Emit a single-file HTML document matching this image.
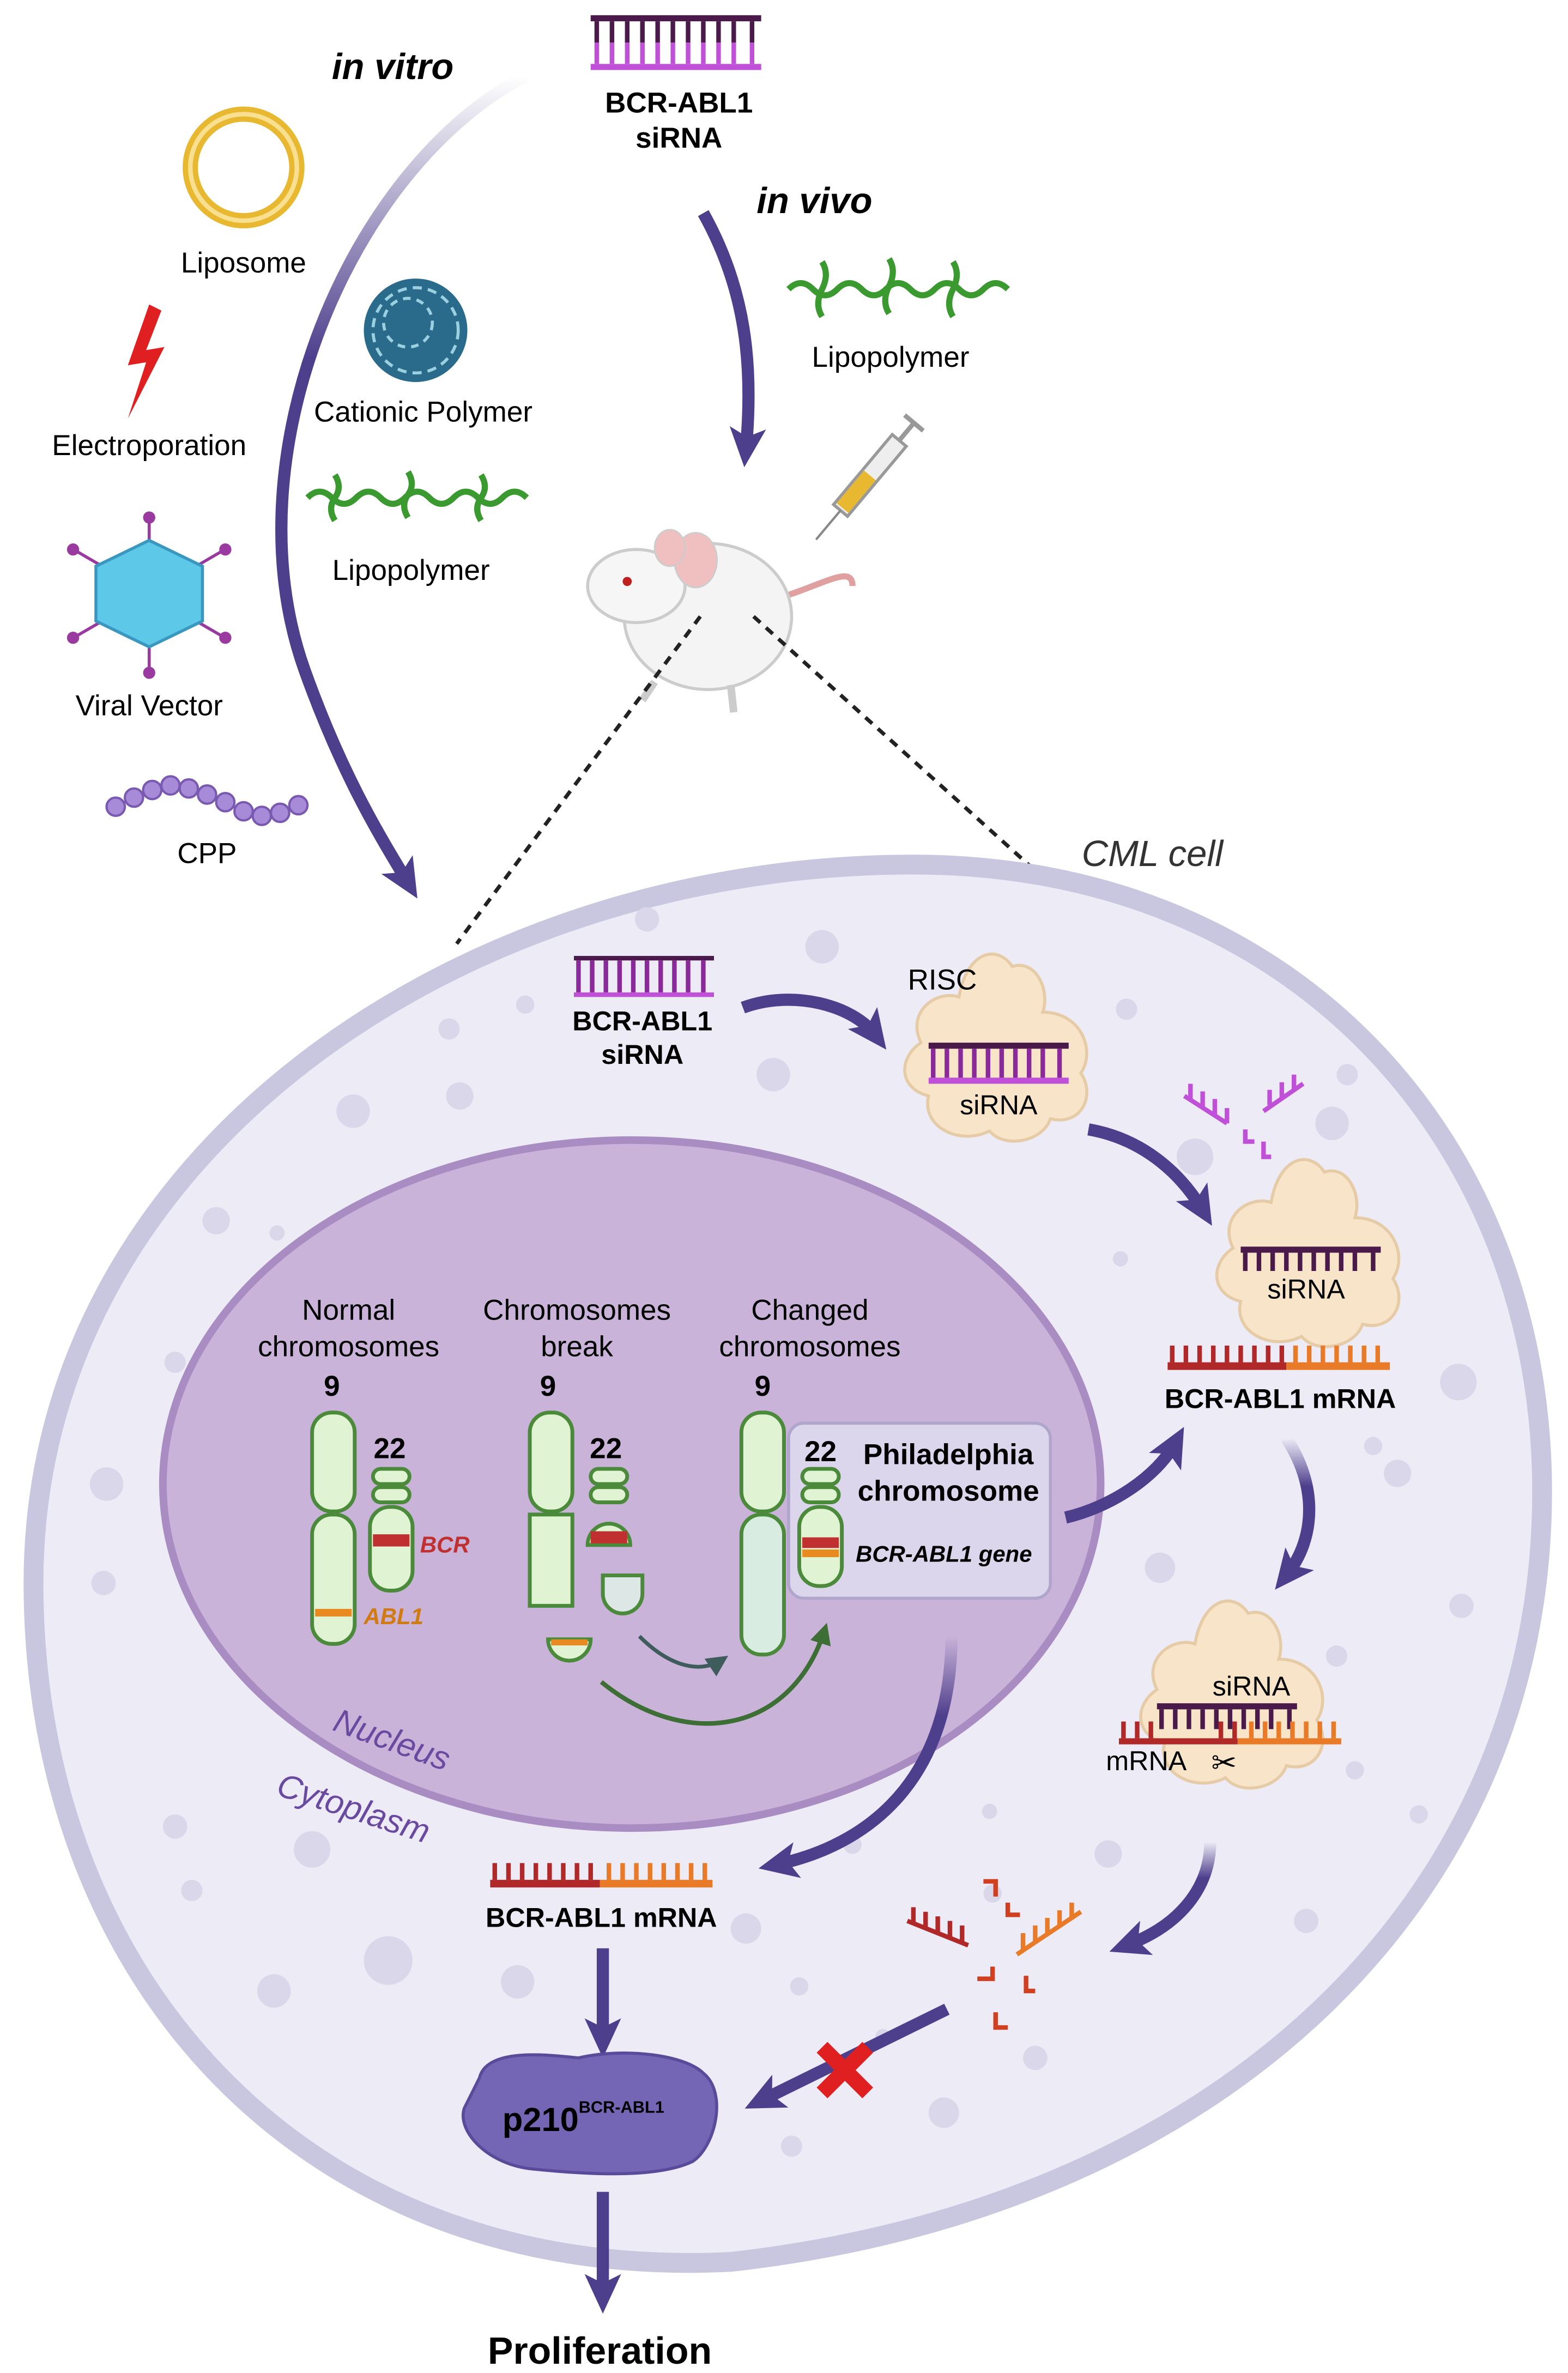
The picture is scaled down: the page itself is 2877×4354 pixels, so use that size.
<!DOCTYPE html>
<html><head><meta charset="utf-8">
<style>
html,body{margin:0;padding:0;background:#fff;}
svg{display:block;}
text{font-family:"Liberation Sans",sans-serif;}
</style></head>
<body>
<svg width="2877" height="4354" viewBox="0 0 1030 1559" preserveAspectRatio="none" xmlns="http://www.w3.org/2000/svg">
<defs>
<marker id="ah" markerUnits="userSpaceOnUse" markerWidth="30" markerHeight="30" refX="14" refY="12" orient="auto">
<path d="M0,0 L26,12 L0,24 L6,12 Z" fill="#4e3f8c"/>
</marker>
<marker id="ahg" markerUnits="userSpaceOnUse" markerWidth="20" markerHeight="20" refX="10" refY="7" orient="auto">
<path d="M0,0 L14,7 L0,14 Z" fill="#3d6e35"/>
</marker>
<marker id="ahd" markerUnits="userSpaceOnUse" markerWidth="20" markerHeight="20" refX="10" refY="7" orient="auto">
<path d="M0,0 L14,7 L0,14 Z" fill="#3f5c5c"/>
</marker>
<linearGradient id="fadeTop" x1="0" y1="0" x2="0" y2="1">
<stop offset="0" stop-color="#4e3f8c" stop-opacity="0"/><stop offset="0.35" stop-color="#4e3f8c"/>
</linearGradient>
<g id="prot">
<path d="M-50,-10 C-60,-30 -40,-45 -25,-40 C-20,-70 0,-75 10,-60 C25,-65 35,-45 30,-30 C55,-30 65,-5 55,10 C65,25 55,45 35,40 C30,55 5,60 -5,48 C-25,58 -50,45 -45,25 C-65,20 -65,0 -50,-10 Z" fill="#f8e4c8" stroke="#e6cca6" stroke-width="2"/>
</g>
</defs>

<!-- siRNA top -->
<g>
<rect x="388" y="10" width="112" height="4" fill="#4a1a4a"/>
<rect x="388" y="42" width="112" height="4" fill="#c050d8"/>
<g stroke-width="3">
<path d="M392,14v14M402,14v14M412,14v14M422,14v14M432,14v14M442,14v14M452,14v14M462,14v14M472,14v14M482,14v14M494,14v14" stroke="#4a1a4a"/>
<path d="M392,28v14M402,28v14M412,28v14M422,28v14M432,28v14M442,28v14M452,28v14M462,28v14M472,28v14M482,28v14M494,28v14" stroke="#c050d8"/>
</g>
</g>
<text x="446" y="74" font-size="19" font-weight="bold" text-anchor="middle">BCR-ABL1</text>
<text x="446" y="97" font-size="19" font-weight="bold" text-anchor="middle">siRNA</text>
<text x="218" y="52" font-size="24" font-weight="bold" font-style="italic">in vitro</text>
<text x="497" y="140" font-size="24" font-weight="bold" font-style="italic">in vivo</text>

<!-- in vitro arrow -->
<path d="M345,50 C230,110 150,300 200,440 C225,510 250,550 268,580" fill="none" stroke="url(#fadeTop)" stroke-width="8" marker-end="url(#ah)"/>
<!-- in vivo arrow -->
<path d="M462,140 C490,190 495,240 490,295" fill="none" stroke="#4e3f8c" stroke-width="8" marker-end="url(#ah)"/>

<!-- liposome -->
<circle cx="160" cy="110" r="35" fill="none" stroke="#e8b830" stroke-width="10"/>
<circle cx="160" cy="110" r="35" fill="none" stroke="#f8e090" stroke-width="3"/>
<text x="160" y="179" font-size="19" text-anchor="middle">Liposome</text>
<!-- lightning -->
<path d="M98,200 L84,240 L96,238 L84,275 L108,228 L96,230 L106,204 Z" fill="#e02020"/>
<text x="98" y="299" font-size="19" text-anchor="middle">Electroporation</text>
<!-- cationic polymer -->
<circle cx="273" cy="217" r="34" fill="#2a6a8a"/>
<circle cx="273" cy="217" r="28" fill="none" stroke="#9ad0e0" stroke-width="2" stroke-dasharray="6 4"/>
<circle cx="268" cy="212" r="16" fill="none" stroke="#9ad0e0" stroke-width="2" stroke-dasharray="5 4"/>
<text x="278" y="277" font-size="19" text-anchor="middle">Cationic Polymer</text>
<!-- lipopolymer left -->
<g fill="none" stroke="#3a9a30" stroke-width="4">
<path d="M202,327 q8,-8 16,0 t16,0 t16,0 t16,0 t16,0 t16,0 t16,0 t16,0 t16,0"/>
<path d="M220,312 q5,8 0,15 t0,15 M268,310 q5,8 0,15 t0,15 M316,312 q5,8 0,15 t0,15"/>
</g>
<text x="270" y="381" font-size="19" text-anchor="middle">Lipopolymer</text>
<!-- lipopolymer right -->
<g fill="none" stroke="#3a9a30" stroke-width="4">
<path d="M518,190 q8,-8 16,0 t16,0 t16,0 t16,0 t16,0 t16,0 t16,0 t16,0 t16,0"/>
<path d="M540,172 q5,8 0,18 t0,18 M584,170 q5,8 0,18 t0,18 M626,172 q5,8 0,18 t0,18"/>
</g>
<text x="585" y="241" font-size="19" text-anchor="middle">Lipopolymer</text>
<!-- viral vector -->
<g stroke="#9a3aa0" stroke-width="2">
<line x1="98" y1="340" x2="98" y2="440"/><line x1="50" y1="362" x2="146" y2="418"/><line x1="50" y1="418" x2="146" y2="362"/>
</g>
<g fill="#9a3aa0"><circle cx="98" cy="340" r="4"/><circle cx="98" cy="442" r="4"/><circle cx="48" cy="361" r="4"/><circle cx="148" cy="361" r="4"/><circle cx="48" cy="419" r="4"/><circle cx="148" cy="419" r="4"/></g>
<polygon points="98,355 133,372 133,408 98,425 63,408 63,372" fill="#5ec8e8" stroke="#3a98c0" stroke-width="2"/>
<text x="98" y="470" font-size="19" text-anchor="middle">Viral Vector</text>
<!-- CPP -->
<g fill="#a78ad8" stroke="#7a5ab0" stroke-width="1.5">
<circle cx="76" cy="530" r="6"/><circle cx="88" cy="524" r="6"/><circle cx="100" cy="519" r="6"/><circle cx="112" cy="516" r="6"/><circle cx="124" cy="518" r="6"/><circle cx="136" cy="522" r="6"/><circle cx="148" cy="527" r="6"/><circle cx="160" cy="533" r="6"/><circle cx="172" cy="536" r="6"/><circle cx="184" cy="534" r="6"/><circle cx="196" cy="529" r="6"/>
</g>
<text x="136" y="567" font-size="19" text-anchor="middle">CPP</text>

<!-- syringe -->
<g transform="translate(565,320) rotate(40)">
<rect x="-6" y="-40" width="12" height="60" fill="#eee" stroke="#999" stroke-width="2"/>
<rect x="-5" y="-10" width="10" height="28" fill="#e8b830"/>
<line x1="0" y1="-40" x2="0" y2="-55" stroke="#999" stroke-width="3"/>
<line x1="-8" y1="-55" x2="8" y2="-55" stroke="#999" stroke-width="3"/>
<line x1="0" y1="20" x2="0" y2="45" stroke="#888" stroke-width="1.5"/>
</g>
<!-- mouse -->
<path d="M505,395 C540,385 560,370 560,385" fill="none" stroke="#e0a0a0" stroke-width="4"/>
<ellipse cx="465" cy="405" rx="55" ry="48" fill="#f4f4f4" stroke="#ccc" stroke-width="2"/>
<ellipse cx="418" cy="385" rx="32" ry="24" fill="#f6f6f6" stroke="#ccc" stroke-width="2"/>
<ellipse cx="457" cy="368" rx="14" ry="18" fill="#f0c0c0" stroke="#ccc"/>
<ellipse cx="440" cy="360" rx="10" ry="12" fill="#f0c0c0" stroke="#ccc"/>
<circle cx="412" cy="382" r="3" fill="#c02020"/>
<path d="M430,448 l-8,12 M480,450 l2,18" stroke="#ccc" stroke-width="5"/>
<!-- dashed -->
<path d="M460,405 L300,620 M495,405 L680,572" stroke="#222" stroke-width="2.5" stroke-dasharray="6 5" fill="none"/>
<text x="757" y="569" font-size="24" font-style="italic" text-anchor="middle" fill="#333">CML cell</text>

<!-- cell -->
<path d="M600,568 C850,568 1013,750 1013,980 C1013,1250 800,1450 480,1486 C200,1500 22,1300 22,1040 C22,760 300,568 600,568 Z" fill="#ecebf6" stroke="#c9c6e0" stroke-width="13"/>
<!-- vesicles -->
<g fill="#d9d7e9">
<circle cx="425" cy="604" r="8"/><circle cx="540" cy="622" r="11"/><circle cx="345" cy="660" r="6"/><circle cx="295" cy="676" r="7"/><circle cx="302" cy="720" r="9"/><circle cx="232" cy="730" r="11"/><circle cx="508" cy="706" r="11"/><circle cx="740" cy="663" r="7"/><circle cx="885" cy="706" r="7"/><circle cx="875" cy="738" r="11"/><circle cx="142" cy="802" r="9"/><circle cx="182" cy="810" r="5"/><circle cx="958" cy="908" r="12"/><circle cx="902" cy="950" r="6"/><circle cx="918" cy="968" r="9"/><circle cx="70" cy="975" r="11"/><circle cx="68" cy="1040" r="8"/><circle cx="115" cy="895" r="7"/><circle cx="785" cy="760" r="12"/><circle cx="736" cy="827" r="5"/><circle cx="762" cy="1030" r="10"/><circle cx="960" cy="1055" r="8"/><circle cx="878" cy="1088" r="7"/><circle cx="115" cy="1200" r="8"/><circle cx="126" cy="1242" r="7"/><circle cx="205" cy="1215" r="12"/><circle cx="255" cy="1288" r="16"/><circle cx="180" cy="1308" r="11"/><circle cx="340" cy="1302" r="11"/><circle cx="650" cy="1190" r="5"/><circle cx="652" cy="1244" r="6"/><circle cx="728" cy="1218" r="9"/><circle cx="560" cy="1212" r="6"/><circle cx="525" cy="1305" r="6"/><circle cx="490" cy="1267" r="10"/><circle cx="580" cy="1338" r="5"/><circle cx="620" cy="1388" r="10"/><circle cx="680" cy="1352" r="8"/><circle cx="858" cy="1262" r="8"/><circle cx="932" cy="1192" r="6"/><circle cx="890" cy="1163" r="6"/><circle cx="520" cy="1410" r="7"/>
</g>

<!-- nucleus -->
<ellipse cx="415" cy="975" rx="308" ry="226" fill="#c9b3d9" stroke="#a98cc2" stroke-width="5"/>
<text x="255" y="1150" font-size="22" font-style="italic" fill="#6a4aa0" transform="rotate(20 255 1150)" text-anchor="middle">Nucleus</text>
<text x="230" y="1195" font-size="22" font-style="italic" fill="#6a4aa0" transform="rotate(18 230 1195)" text-anchor="middle">Cytoplasm</text>

<g font-size="19" text-anchor="middle">
<text x="229" y="867">Normal</text><text x="229" y="891">chromosomes</text>
<text x="379" y="867">Chromosomes</text><text x="379" y="891">break</text>
<text x="532" y="867">Changed</text><text x="532" y="891">chromosomes</text>
</g>
<g font-size="19" font-weight="bold" text-anchor="middle">
<text x="218" y="917">9</text><text x="360" y="917">9</text><text x="501" y="917">9</text>
<text x="256" y="958">22</text><text x="398" y="958">22</text>
</g>
<!-- chromosomes -->
<g fill="#e0f3d2" stroke="#4a8a3a" stroke-width="2.5">
<rect x="205" y="928" width="28" height="65" rx="13"/><rect x="205" y="995" width="28" height="85" rx="13"/>
<rect x="245" y="965" width="24" height="10" rx="5"/><rect x="245" y="977" width="24" height="10" rx="5"/><rect x="243" y="990" width="28" height="55" rx="13"/>
<rect x="348" y="928" width="28" height="65" rx="13"/><path d="M348,995 h28 v60 h-28 z"/>
<rect x="388" y="965" width="24" height="10" rx="5"/><rect x="388" y="977" width="24" height="10" rx="5"/><path d="M386,1015 a14,14 0 0 1 28,0 z"/>
<path d="M396,1035 h26 v12 a13,13 0 0 1 -26,0 z" fill="#dde8e6"/>
<path d="M360,1077 h28 a14,14 0 0 1 -28,0 z"/>
<rect x="487" y="928" width="28" height="65" rx="13"/><rect x="487" y="995" width="28" height="92" rx="13" fill="#d8ece2"/>
</g>
<rect x="207" y="1057" width="24" height="5" fill="#e88a20"/>
<rect x="245" y="1008" width="24" height="8" fill="#c03030"/>
<rect x="388" y="1006" width="24" height="8" fill="#c03030"/>
<rect x="362" y="1077" width="24" height="4" fill="#e88a20"/>
<text x="276" y="1020" font-size="15" font-weight="bold" font-style="italic" fill="#c03030">BCR</text>
<text x="239" y="1067" font-size="15" font-weight="bold" font-style="italic" fill="#d07a10">ABL1</text>
<!-- Philadelphia box -->
<rect x="518" y="935" width="172" height="115" rx="10" fill="#dcd6ec" stroke="#b0a6cc" stroke-width="2"/>
<text x="539" y="960" font-size="19" font-weight="bold" text-anchor="middle">22</text>
<text x="623" y="962" font-size="19" font-weight="bold" text-anchor="middle">Philadelphia</text>
<text x="623" y="986" font-size="19" font-weight="bold" text-anchor="middle">chromosome</text>
<text x="620" y="1026" font-size="15" font-weight="bold" font-style="italic" text-anchor="middle">BCR-ABL1 gene</text>
<g fill="#e0f3d2" stroke="#4a8a3a" stroke-width="2.5">
<rect x="527" y="965" width="24" height="10" rx="5"/><rect x="527" y="977" width="24" height="10" rx="5"/><rect x="525" y="990" width="28" height="52" rx="13"/>
</g>
<rect x="527" y="1010" width="24" height="7" fill="#c03030"/><rect x="527" y="1018" width="24" height="5" fill="#e88a20"/>
<!-- green arrows -->
<path d="M420,1075 C440,1095 460,1100 475,1090" fill="none" stroke="#3f5c5c" stroke-width="2.5" marker-end="url(#ahd)"/>
<path d="M395,1105 C450,1150 520,1140 542,1070" fill="none" stroke="#3d6e35" stroke-width="3" marker-end="url(#ahg)"/>

<!-- cell siRNA -->
<rect x="377" y="628" width="92" height="3" fill="#4a1a4a"/><rect x="377" y="652" width="92" height="3" fill="#c050d8"/>
<path d="M380,631v21M389,631v21M398,631v21M407,631v21M416,631v21M425,631v21M434,631v21M443,631v21M452,631v21M462,631v21" stroke="#8a2a9a" stroke-width="3"/>
<text x="422" y="677" font-size="18" font-weight="bold" text-anchor="middle">BCR-ABL1</text>
<text x="422" y="699" font-size="18" font-weight="bold" text-anchor="middle">siRNA</text>
<path d="M488,662 C520,650 560,660 575,680" fill="none" stroke="#4e3f8c" stroke-width="8" marker-end="url(#ah)"/>

<!-- RISC 1 -->
<use href="#prot" x="655" y="695" transform="translate(0,0)"/>
<text x="619" y="650" font-size="19" text-anchor="middle">RISC</text>
<rect x="610" y="685" width="92" height="4" fill="#4a1a4a"/><rect x="610" y="708" width="92" height="4" fill="#c050d8"/>
<path d="M613,689v19M622,689v19M631,689v19M640,689v19M649,689v19M658,689v19M667,689v19M676,689v19M685,689v19M696,689v19" stroke="#8a2a9a" stroke-width="3"/>
<text x="656" y="732" font-size="18" text-anchor="middle">siRNA</text>
<path d="M715,742 C750,748 775,770 790,795" fill="none" stroke="#4e3f8c" stroke-width="8" marker-end="url(#ah)"/>
<!-- fragments -->
<g stroke="#c050d8" stroke-width="3" fill="none">
<path d="M778,720 l28,18 M782,722 v-10 M790,727 v-10 M798,732 v-10 M806,738 v-10"/>
<path d="M830,730 l26,-18 M834,726 v-10 M842,721 v-10 M850,716 v-10"/>
<path d="M818,742 v8 h6 M830,750 v10 h5"/>
</g>
<!-- RISC 2 -->
<use href="#prot" x="860" y="830"/>
<rect x="815" y="819" width="92" height="4" fill="#4a1a4a"/>
<path d="M818,823v12M827,823v12M836,823v12M845,823v12M854,823v12M863,823v12M872,823v12M881,823v12M890,823v12M902,823v12" stroke="#4a1a4a" stroke-width="3"/>
<text x="858" y="853" font-size="18" text-anchor="middle">siRNA</text>
<!-- mRNA right -->
<rect x="767" y="895" width="78" height="5" fill="#b02828"/><rect x="845" y="895" width="68" height="5" fill="#e87a28"/>
<path d="M770,884v11M779,884v11M788,884v11M797,884v11M806,884v11M815,884v11M824,884v11M833,884v11M842,884v11" stroke="#b02828" stroke-width="3"/>
<path d="M851,884v11M860,884v11M869,884v11M878,884v11M887,884v11M896,884v11M905,884v11" stroke="#e87a28" stroke-width="3"/>
<text x="841" y="925" font-size="18" font-weight="bold" text-anchor="middle">BCR-ABL1 mRNA</text>
<!-- arrows -->
<path d="M700,997 C730,990 760,970 772,948" fill="none" stroke="#4e3f8c" stroke-width="8" marker-end="url(#ah)"/>
<path d="M845,945 C865,975 865,1010 845,1035" fill="none" stroke="url(#fadeTop)" stroke-width="8" marker-end="url(#ah)"/>
<!-- RISC 3 -->
<use href="#prot" x="810" y="1120"/>
<text x="822" y="1114" font-size="18" text-anchor="middle">siRNA</text>
<rect x="760" y="1119" width="92" height="4" fill="#4a1a4a"/>
<path d="M763,1123v13M772,1123v13M781,1123v13M790,1123v13M799,1123v13M808,1123v13M817,1123v13M826,1123v13M835,1123v13M847,1123v13" stroke="#4a1a4a" stroke-width="3"/>
<rect x="735" y="1142" width="78" height="4" fill="#b02828"/><rect x="813" y="1142" width="68" height="4" fill="#e87a28"/>
<path d="M738,1131v11M747,1131v11M756,1131v11M802,1131v11M811,1131v11" stroke="#b02828" stroke-width="3"/>
<path d="M822,1131v11M831,1131v11M840,1131v11M849,1131v11M858,1131v11M867,1131v11M876,1131v11" stroke="#e87a28" stroke-width="3"/>
<text x="753" y="1163" font-size="18" text-anchor="middle">mRNA</text>
<text x="804" y="1165" font-size="20" text-anchor="middle">✂</text>
<path d="M795,1210 C795,1240 775,1265 740,1278" fill="none" stroke="url(#fadeTop)" stroke-width="8" marker-end="url(#ah)"/>
<!-- fragments bottom -->
<g stroke-width="3" fill="none">
<path d="M596,1262 l40,16 M600,1264 v-11 M608,1267 v-11 M616,1270 v-11 M624,1273 v-11 M632,1276 v-11" stroke="#b02828"/>
<path d="M668,1284 l42,-28 M672,1281 v-11 M680,1276 v-11 M688,1271 v-11 M696,1266 v-11 M704,1261 v-11" stroke="#e87a28"/>
<path d="M646,1236 h8 v10 M662,1250 v8 h8 M642,1300 h10 v-8 M674,1298 v10 h6 M654,1322 v10 h8" stroke="#d04020"/>
</g>
<!-- nucleus exit arrow -->
<path d="M625,1075 C625,1160 580,1210 510,1225" fill="none" stroke="url(#fadeTop)" stroke-width="8" marker-end="url(#ah)"/>
<!-- mRNA bottom -->
<rect x="322" y="1235" width="72" height="5" fill="#b02828"/><rect x="394" y="1235" width="74" height="5" fill="#e87a28"/>
<path d="M325,1224v11M334,1224v11M343,1224v11M352,1224v11M361,1224v11M370,1224v11M379,1224v11M388,1224v11" stroke="#b02828" stroke-width="3"/>
<path d="M400,1224v11M409,1224v11M418,1224v11M427,1224v11M436,1224v11M445,1224v11M454,1224v11M463,1224v11" stroke="#e87a28" stroke-width="3"/>
<text x="395" y="1266" font-size="18" font-weight="bold" text-anchor="middle">BCR-ABL1 mRNA</text>
<path d="M396,1280 L396,1340" stroke="#4e3f8c" stroke-width="8" marker-end="url(#ah)"/>
<!-- p210 -->
<path d="M315,1365 C320,1345 360,1350 380,1352 C410,1345 450,1350 462,1362 C478,1375 470,1410 455,1420 C430,1432 380,1428 350,1425 C320,1422 300,1400 305,1385 Z" fill="#7565b5" stroke="#5a4a9a" stroke-width="2"/>
<text x="330" y="1400" font-size="22" font-weight="bold">p210<tspan font-size="11" dy="-12">BCR-ABL1</tspan></text>
<!-- blocked arrow -->
<path d="M622,1320 L500,1380" stroke="#4e3f8c" stroke-width="8" marker-end="url(#ah)"/>
<path d="M540,1345 L570,1375 M570,1345 L540,1375" stroke="#e02020" stroke-width="10"/>
<!-- proliferation -->
<path d="M396,1440 L396,1508" stroke="#4e3f8c" stroke-width="8" marker-end="url(#ah)"/>
<text x="394" y="1553" font-size="25" font-weight="bold" text-anchor="middle">Proliferation</text>
</svg>
</body></html>
